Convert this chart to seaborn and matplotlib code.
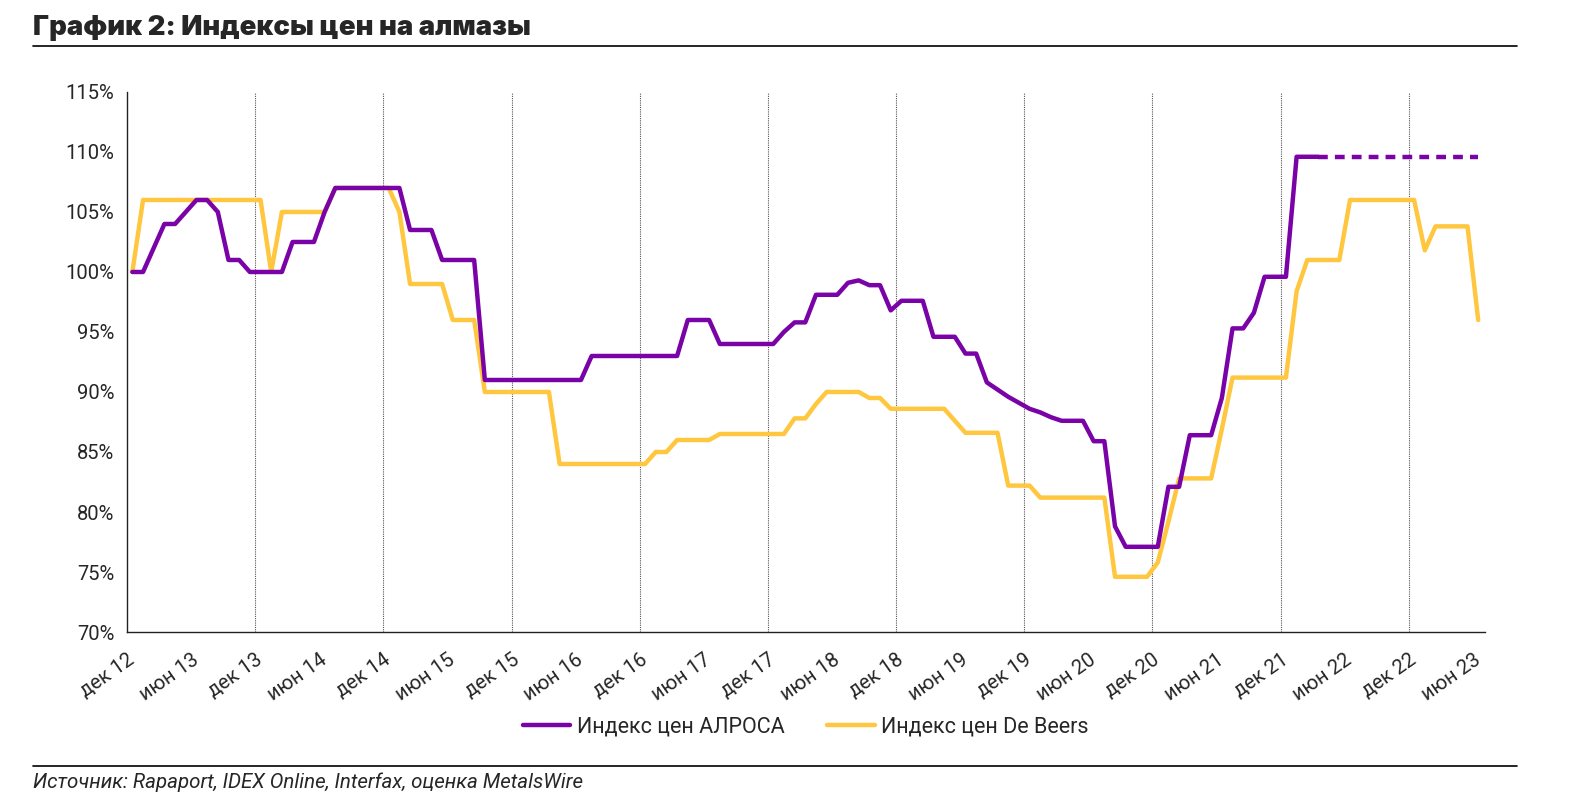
import numpy as np
import pandas as pd
import matplotlib
matplotlib.use('Agg')
import matplotlib.pyplot as plt
import seaborn as sns

######  Data (monthly, Dec 2012 .. Jun 2023)

alrosa = [100, 100, 102, 104, 104, 105, 106, 106, 105, 101, 101, 100,
          100, 100, 100, 102.5, 102.5, 102.5, 105, 107, 107, 107, 107, 107,
          107, 107, 103.5, 103.5, 103.5, 101, 101, 101, 101, 91, 91, 91,
          91, 91, 91, 91, 91, 91, 91, 93, 93, 93, 93, 93, 93, 93,
          93, 93, 96, 96, 96, 94, 94, 94, 94, 94, 94, 95,
          95.8, 95.8, 98.1, 98.1, 98.1, 99.1, 99.3, 98.9, 98.9, 96.8, 97.6, 97.6,
          97.6, 94.6, 94.6, 94.6, 93.2, 93.2, 90.8, 90.2, 89.6, 89.1, 88.6, 88.3,
          87.9, 87.6, 87.6, 87.6, 85.9, 85.9, 78.8, 77.1, 77.1, 77.1, 77.1, 82.1,
          82.1, 86.4, 86.4, 86.4, 89.5, 95.3, 95.3, 96.6, 99.6, 99.6, 99.6, 109.6,
          109.6, 109.6]

# forecast part of the ALROSA index (dashed)
alrosa_fc = [109.6] * 16

debeers = [100, 106, 106, 106, 106, 106, 106, 106, 106, 106, 106, 106,
           106, 100, 105, 105, 105, 105, 105, 107, 107, 107, 107, 107,
           107, 105, 99, 99, 99, 99, 96, 96, 96, 90, 90, 90,
           90, 90, 90, 90, 84, 84, 84, 84, 84, 84, 84, 84,
           84, 85, 85, 86, 86, 86, 86, 86.5, 86.5, 86.5, 86.5, 86.5,
           86.5, 86.5, 87.8, 87.8, 89, 90, 90, 90, 90, 89.5, 89.5, 88.6,
           88.6, 88.6, 88.6, 88.6, 88.6, 87.6, 86.6, 86.6, 86.6, 86.6, 82.2, 82.2,
           82.2, 81.2, 81.2, 81.2, 81.2, 81.2, 81.2, 81.2, 74.6, 74.6, 74.6, 74.6,
           75.8, 79.2, 82.8, 82.8, 82.8, 82.8, 86.9, 91.2, 91.2, 91.2, 91.2, 91.2,
           91.2, 98.4, 101, 101, 101, 101, 106, 106, 106, 106, 106, 106,
           106, 101.8, 103.8, 103.8, 103.8, 103.8, 96]

tick_labels = ['дек 12', 'июн 13', 'дек 13', 'июн 14', 'дек 14', 'июн 15',
               'дек 15', 'июн 16', 'дек 16', 'июн 17', 'дек 17', 'июн 18',
               'дек 18', 'июн 19', 'дек 19', 'июн 20', 'дек 20', 'июн 21',
               'дек 21', 'июн 22', 'дек 22', 'июн 23']
y_ticks = [70, 75, 80, 85, 90, 95, 100, 105, 110, 115]

df_a = pd.DataFrame({'m': np.arange(len(alrosa)), 'v': alrosa})
df_f = pd.DataFrame({'m': np.arange(len(alrosa_fc)) + len(alrosa) - 1, 'v': alrosa_fc})
df_d = pd.DataFrame({'m': np.arange(len(debeers)), 'v': debeers})

######  Style

sns.set_style('white')
plt.rcParams['font.family'] = ['Roboto', 'DejaVu Sans']

purple = '#7A03A8'
yellow = '#FFC73F'

fig = plt.figure(figsize=(15.74, 8.11), dpi=100)
ax = fig.add_axes([0.0807, 0.2207, 0.8625, 0.6659])

sns.lineplot(data=df_a, x='m', y='v', ax=ax, color=purple, lw=3.2, label='Индекс цен АЛРОСА')
sns.lineplot(data=df_d, x='m', y='v', ax=ax, color=yellow, lw=3.2, label='Индекс цен De Beers')
sns.lineplot(data=df_f, x='m', y='v', ax=ax, color=purple, lw=3.2, linestyle=(0, (2.2, 1.6)), legend=False)
# purple drawn on top where the lines overlap
ax.lines[0].set_zorder(3)

n = len(debeers)
ax.set_xlim(-0.5, n - 0.4)
ax.set_ylim(70, 115)
ticks = [-0.5 + 6 * k for k in range(len(tick_labels))]
ax.set_xticks(ticks)
ax.set_xticklabels(tick_labels, rotation=35, ha='right', rotation_mode='anchor', fontsize=14.5)
ax.set_yticks(y_ticks)
ax.set_yticklabels([f'{v}%' for v in y_ticks], fontsize=14.5)
ax.set_xlabel('')
ax.set_ylabel('')

# vertical dotted lines at each December
for t in ticks[2::2]:
    ax.axvline(t, color='#555555', lw=0.8, ls=(0, (1, 1)), zorder=0)

for s in ['top', 'right']:
    ax.spines[s].set_visible(False)
for s in ['left', 'bottom']:
    ax.spines[s].set_color('#222222')
    ax.spines[s].set_linewidth(1.0)
ax.tick_params(axis='x', direction='out', length=7, width=0.8, color='#444444', pad=6)
ax.tick_params(axis='y', direction='out', length=5, width=0.8, color='#444444', pad=4)

ax.legend(loc='upper center', bbox_to_anchor=(0.5, -0.12), ncol=2, frameon=False,
          fontsize=15.5, handlelength=2.2, columnspacing=2.0, handletextpad=0.3)

######  Title, rules and source

fig.text(0.021, 0.966, 'График 2: Индексы цен на алмазы', fontsize=19.8, fontweight='black',
         family=['Inter', 'DejaVu Sans'], va='center', ha='left')
fig.add_artist(plt.Line2D([0.021, 0.964], [0.943, 0.943], color='black', lw=1.2))
fig.add_artist(plt.Line2D([0.021, 0.964], [0.055, 0.055], color='black', lw=1.2))
fig.text(0.021, 0.036, 'Источник: Rapaport, IDEX Online, Interfax, оценка MetalsWire',
         fontsize=14.8, style='italic', va='center', ha='left')

plt.savefig('out.png', dpi=100)
